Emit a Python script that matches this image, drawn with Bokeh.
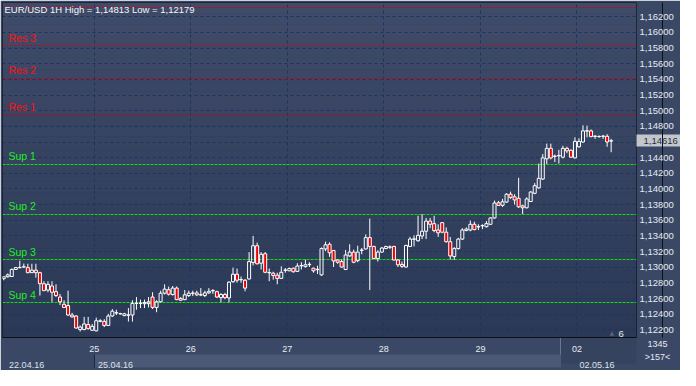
import numpy as np
from bokeh.plotting import figure
from bokeh.models import (ColumnDataSource, Range1d, FixedTicker, Label, LinearAxis,
                          BoxAnnotation, CustomJSTickFormatter)
from bokeh.embed import file_html
from bokeh.resources import INLINE

# ---------------- data ----------------
title_text = "EUR/USD 1H High = 1,14813 Low = 1,12179"

opens = [1.12855, 1.12879, 1.12882, 1.12972, 1.12994, 1.13003, 1.12996, 1.12931, 1.12963, 1.12931,
         1.12790, 1.12709, 1.12761, 1.12688, 1.12620, 1.12527, 1.12511, 1.12390, 1.12378, 1.12204,
         1.12204, 1.12269, 1.12196, 1.12188, 1.12309, 1.12309, 1.12257, 1.12378, 1.12416, 1.12408,
         1.12382, 1.12392, 1.12390, 1.12539, 1.12541, 1.12535, 1.12535, 1.12620, 1.12487, 1.12559,
         1.12669, 1.12713, 1.12652, 1.12734, 1.12600, 1.12587, 1.12639, 1.12668, 1.12673, 1.12650,
         1.12639, 1.12673, 1.12699, 1.12688, 1.12612, 1.12652, 1.12608, 1.12815, 1.12911, 1.12840,
         1.12834, 1.12851, 1.13061, 1.13275, 1.13052, 1.13173, 1.12933, 1.12924, 1.12899, 1.12858,
         1.12961, 1.12955, 1.12988, 1.12948, 1.13019, 1.13008, 1.13034, 1.12988, 1.12970, 1.12903,
         1.13234, 1.13294, 1.13214, 1.13093, 1.13073, 1.12972, 1.13145, 1.13194, 1.13085, 1.13216,
         1.13234, 1.13379, 1.13266, 1.13112, 1.13194, 1.13239, 1.13256, 1.13266, 1.13093, 1.13036,
         1.13003, 1.13266, 1.13358, 1.13339, 1.13400, 1.13460, 1.13590, 1.13557, 1.13476, 1.13570,
         1.13448, 1.13327, 1.13137, 1.13239, 1.13360, 1.13469, 1.13476, 1.13549, 1.13516, 1.13530,
         1.13518, 1.13549, 1.13630, 1.13824, 1.13791, 1.13833, 1.13933, 1.13900, 1.13881, 1.13784,
         1.13760, 1.13840, 1.13945, 1.14014, 1.14127, 1.14385, 1.14519, 1.14416, 1.14424, 1.14406,
         1.14519, 1.14494, 1.14397, 1.14539, 1.14600, 1.14740, 1.14742, 1.14672, 1.14669, 1.14673,
         1.14673, 1.14612]
highs = [1.12882, 1.12921, 1.12984, 1.13003, 1.13084, 1.13048, 1.13045, 1.13045, 1.13045, 1.12943,
         1.12822, 1.12822, 1.12822, 1.12782, 1.12660, 1.12579, 1.12701, 1.12418, 1.12390, 1.12257,
         1.12366, 1.12366, 1.12276, 1.12357, 1.12337, 1.12337, 1.12406, 1.12467, 1.12458, 1.12418,
         1.12418, 1.12479, 1.12579, 1.12620, 1.12587, 1.12587, 1.12620, 1.12681, 1.12579, 1.12701,
         1.12782, 1.12754, 1.12761, 1.12754, 1.12620, 1.12709, 1.12701, 1.12701, 1.12701, 1.12734,
         1.12701, 1.12734, 1.12721, 1.12701, 1.12669, 1.12673, 1.12822, 1.12996, 1.12984, 1.12882,
         1.12851, 1.13194, 1.13400, 1.13315, 1.13194, 1.13194, 1.12984, 1.12943, 1.12931, 1.13012,
         1.12991, 1.12996, 1.12996, 1.13052, 1.13064, 1.13097, 1.13064, 1.12996, 1.13020, 1.13254,
         1.13327, 1.13319, 1.13222, 1.13101, 1.13101, 1.13222, 1.13294, 1.13226, 1.13275, 1.13246,
         1.13420, 1.13622, 1.13275, 1.13218, 1.13258, 1.13275, 1.13279, 1.13275, 1.13105, 1.13073,
         1.13287, 1.13388, 1.13408, 1.13658, 1.13679, 1.13630, 1.13630, 1.13658, 1.13549, 1.13578,
         1.13509, 1.13388, 1.13258, 1.13376, 1.13500, 1.13509, 1.13597, 1.13582, 1.13549, 1.13549,
         1.13590, 1.13638, 1.13852, 1.13848, 1.13873, 1.13945, 1.13966, 1.13933, 1.14143, 1.13800,
         1.13893, 1.13973, 1.14075, 1.14325, 1.14446, 1.14579, 1.14579, 1.14439, 1.14500, 1.14551,
         1.14539, 1.14506, 1.14660, 1.14648, 1.14813, 1.14810, 1.14761, 1.14688, 1.14685, 1.14688,
         1.14700, 1.14640]
lows = [1.12834, 1.12867, 1.12879, 1.12968, 1.12988, 1.12994, 1.12924, 1.12928, 1.12867, 1.12639,
        1.12697, 1.12681, 1.12559, 1.12620, 1.12518, 1.12479, 1.12378, 1.12357, 1.12216, 1.12179,
        1.12196, 1.12204, 1.12188, 1.12182, 1.12297, 1.12236, 1.12249, 1.12366, 1.12390, 1.12398,
        1.12378, 1.12306, 1.12306, 1.12458, 1.12479, 1.12479, 1.12487, 1.12467, 1.12426, 1.12551,
        1.12652, 1.12639, 1.12639, 1.12579, 1.12572, 1.12579, 1.12620, 1.12632, 1.12632, 1.12632,
        1.12620, 1.12660, 1.12660, 1.12608, 1.12551, 1.12591, 1.12551, 1.12802, 1.12802, 1.12802,
        1.12693, 1.12842, 1.13024, 1.13036, 1.12972, 1.12924, 1.12822, 1.12842, 1.12782, 1.12855,
        1.12931, 1.12951, 1.12931, 1.12940, 1.12972, 1.12996, 1.13003, 1.12931, 1.12915, 1.12891,
        1.13206, 1.13133, 1.13003, 1.13045, 1.12996, 1.12963, 1.13133, 1.13052, 1.13064, 1.13166,
        1.13226, 1.12709, 1.13105, 1.13073, 1.13185, 1.13234, 1.13234, 1.13085, 1.13003, 1.12991,
        1.12996, 1.13258, 1.13266, 1.13327, 1.13360, 1.13360, 1.13500, 1.13448, 1.13388, 1.13436,
        1.13315, 1.13097, 1.13093, 1.13226, 1.13348, 1.13460, 1.13460, 1.13473, 1.13476, 1.13488,
        1.13509, 1.13542, 1.13622, 1.13788, 1.13772, 1.13824, 1.13873, 1.13800, 1.13760, 1.13679,
        1.13751, 1.13833, 1.13933, 1.14002, 1.14115, 1.14317, 1.14378, 1.14345, 1.14325, 1.14390,
        1.14458, 1.14397, 1.14390, 1.14527, 1.14591, 1.14660, 1.14660, 1.14640, 1.14654, 1.14640,
        1.14539, 1.14470]
closes = [1.12879, 1.12903, 1.12972, 1.12996, 1.12998, 1.13006, 1.12931, 1.12963, 1.12931, 1.12790,
          1.12701, 1.12782, 1.12681, 1.12639, 1.12559, 1.12487, 1.12390, 1.12366, 1.12224, 1.12236,
          1.12276, 1.12216, 1.12245, 1.12317, 1.12317, 1.12257, 1.12378, 1.12439, 1.12420, 1.12404,
          1.12406, 1.12388, 1.12539, 1.12541, 1.12539, 1.12551, 1.12559, 1.12487, 1.12559, 1.12669,
          1.12721, 1.12656, 1.12734, 1.12587, 1.12579, 1.12648, 1.12669, 1.12670, 1.12648, 1.12646,
          1.12673, 1.12693, 1.12703, 1.12620, 1.12652, 1.12612, 1.12810, 1.12911, 1.12834, 1.12844,
          1.12734, 1.13073, 1.13275, 1.13045, 1.13166, 1.12936, 1.12929, 1.12895, 1.12858, 1.12936,
          1.12965, 1.12984, 1.12943, 1.13016, 1.13023, 1.13032, 1.13038, 1.12955, 1.12974, 1.13239,
          1.13287, 1.13185, 1.13081, 1.13064, 1.13003, 1.13157, 1.13194, 1.13064, 1.13194, 1.13220,
          1.13379, 1.13266, 1.13112, 1.13194, 1.13246, 1.13266, 1.13260, 1.13093, 1.13032, 1.13012,
          1.13279, 1.13360, 1.13362, 1.13408, 1.13460, 1.13590, 1.13549, 1.13469, 1.13440, 1.13448,
          1.13327, 1.13145, 1.13239, 1.13360, 1.13476, 1.13488, 1.13549, 1.13481, 1.13520, 1.13533,
          1.13557, 1.13630, 1.13821, 1.13791, 1.13836, 1.13933, 1.13893, 1.13860, 1.13772, 1.13760,
          1.13873, 1.13961, 1.14042, 1.14136, 1.14397, 1.14519, 1.14397, 1.14420, 1.14428, 1.14519,
          1.14487, 1.14406, 1.14608, 1.14608, 1.14742, 1.14744, 1.14669, 1.14674, 1.14671, 1.14675,
          1.14600, 1.14616]

res_names = ["Res 1", "Res 2", "Res 3", "Res 4"]
res_levels = [1.14943, 1.15412, 1.15828, 1.16321]
sup_names = ["Sup 1", "Sup 2", "Sup 3", "Sup 4"]
sup_levels = [1.14317, 1.13675, 1.13093, 1.12548]

price_ticks = [1.122, 1.124, 1.126, 1.128, 1.130, 1.132, 1.134, 1.136, 1.138, 1.140, 1.142,
               1.144, 1.146, 1.148, 1.150, 1.152, 1.154, 1.156, 1.158, 1.160, 1.162]
day_first_bar = [23, 47, 71, 95, 119, 143]
day_labels = ["25", "26", "27", "28", "29", "02"]
date_first_bar = [0, 23, 143]
date_labels = ["22.04.16", "25.04.16", "02.05.16"]
last_price = 1.14616
last_price_text = "1,14616"
corner_text = "1345\n>157<"
shift_text = "6"

# ---------------- figure ----------------
W, H = 680, 370
BL, BT, BR, BB = 2, 2, 40, 26
X0, X1 = -0.3, 157.3
Y0, Y1 = 1.12103, 1.16382
FONT = "Liberation Sans"
px_x = (X1 - X0) / (W - BL - 43)        # data units per pixel (horizontal)

p = figure(width=W, height=H, output_backend="svg", toolbar_location=None,
           x_range=Range1d(X0, X1), y_range=Range1d(Y0, Y1), y_axis_location="right",
           min_border_left=BL, min_border_top=BT, min_border_right=BR, min_border_bottom=BB)
p.background_fill_color = "#2d3b58"
p.border_fill_color = "#3b4865"
p.outline_line_color = "#151b28"

# vertical gradient of the plot background
top_rgb = np.array([64, 76, 105])
bot_rgb = np.array([43, 57, 87])
nb = 30
edges = np.linspace(Y0, Y1, nb + 1)
for k in range(nb):
    t = (k + 0.5) / nb
    rgb = (bot_rgb + (top_rgb - bot_rgb) * t).astype(int)
    col = "#%02x%02x%02x" % tuple(rgb)
    p.add_layout(BoxAnnotation(bottom=edges[k], top=edges[k + 1], fill_color=col, fill_alpha=1,
                               line_alpha=0, level="image"))

# ---------------- grid ----------------
day_bounds = [d - 0.5 for d in day_first_bar]
xt = FixedTicker(ticks=day_bounds)
yt = FixedTicker(ticks=price_ticks)
p.xgrid.ticker = xt
p.ygrid.ticker = yt
for g in (p.xgrid, p.ygrid):
    g.grid_line_color = "#1b3461"
    g.grid_line_dash = "3 3"
    g.grid_line_width = 1


def style(ax, color, size="9px", standoff=2):
    ax.major_tick_line_color = None
    ax.minor_tick_line_color = None
    ax.major_label_text_color = color
    ax.major_label_text_font = FONT
    ax.major_label_text_font_size = size
    ax.major_label_standoff = standoff
    return ax


def strip_axis(center, width_px, depth_px, color):
    """label-less axis: one thick minor tick paints a strip outside the frame"""
    return LinearAxis(ticker=FixedTicker(ticks=[], minor_ticks=[center]), axis_line_color=None,
                      major_tick_line_color=None, major_label_standoff=0,
                      minor_tick_out=0, minor_tick_in=-depth_px,
                      minor_tick_line_width=width_px, minor_tick_line_color=color,
                      minor_tick_line_cap="butt")


# ---------------- bottom: day row + date row ----------------
section_split = 138.4
shade_c = strip_axis((section_split + X1) / 2, (X1 - section_split) / px_x, 26, "#36435e")
sep_c = strip_axis(section_split, 1, 26, "#6b7790")
shade_b = strip_axis((day_bounds[0] + section_split) / 2, (section_split - day_bounds[0]) / px_x,
                     13, "#4b5977")
sep_b = strip_axis(day_bounds[0], 1, 13, "#1f283a")

xa = p.xaxis[0]
xa.ticker = FixedTicker(ticks=day_bounds)
xa.major_label_overrides = {b: lab for b, lab in zip(day_bounds, day_labels)}
xa.axis_line_color = "#0b0f18"
style(xa, "#e6ecf6")

date_pos = [max(d - 0.5, X0) + off for d, off in zip(date_first_bar, [6.0, 5.3, 5.0])]
xd = LinearAxis(ticker=FixedTicker(ticks=date_pos),
                major_label_overrides={d: lab for d, lab in zip(date_pos, date_labels)},
                axis_line_color=None)
style(xd, "#dde3ec", standoff=1)

p.below = [shade_c, sep_c, xa, shade_b, sep_b, xd]

# ---------------- right: price tag box, corner texts, price axis, tag text ----------------
tag_box = strip_axis(last_price, 12, 44, "#c3c6cc")
corner = Label(x=X1, y=Y0, text=corner_text, x_offset=21, y_offset=-13, text_align="center",
               text_baseline="middle", text_font=FONT, text_font_size="9px",
               text_line_height=1.35, text_color="#e4eaf4")

ya = p.yaxis[0]
ya.ticker = FixedTicker(ticks=[t for t in price_ticks if abs(t - last_price) > 0.0005])
ya.formatter = CustomJSTickFormatter(code="return tick.toFixed(5).replace('.', ',');")
ya.axis_line_color = "#0b0f18"
style(ya, "#e4eaf4", "9.5px", 4 - 33)

tag_text = LinearAxis(ticker=FixedTicker(ticks=[last_price]), axis_line_color=None,
                      major_label_overrides={last_price: last_price_text})
style(tag_text, "#2c3036", "9.5px", 4 - 43)

p.right = [tag_box, corner, ya, tag_text]

# ---------------- support / resistance ----------------
p.hspan(y=res_levels, line_color="#d40000", line_width=1, line_dash="2 2")
p.hspan(y=sup_levels, line_color="#10dd10", line_width=1, line_dash="3 1")
for name, lvl in zip(res_names[:3], res_levels[:3]):
    p.add_layout(Label(x=6, x_units="screen", y=lvl, text=name, y_offset=8,
                       text_baseline="alphabetic", text_font=FONT, text_font_size="10.5px",
                       text_color="#ff1010"))
for name, lvl in zip(sup_names, sup_levels):
    p.add_layout(Label(x=6, x_units="screen", y=lvl, text=name, y_offset=8,
                       text_baseline="alphabetic", text_font=FONT, text_font_size="10.5px",
                       text_color="#22ee22"))

# ---------------- candles ----------------
o = np.array(opens); c = np.array(closes); h = np.array(highs); l = np.array(lows)
idx = np.arange(len(o))
bear = c < o
src = ColumnDataSource(dict(x=idx, top=np.maximum(o, c), bottom=np.minimum(o, c), high=h, low=l,
                            fill=np.where(bear, "#ee0000", "#ffffff"),
                            alpha=np.where(bear, 1.0, 0.0)))
p.segment(x0="x", y0="high", x1="x", y1="top", source=src, line_color="white", line_width=1)
p.segment(x0="x", y0="bottom", x1="x", y1="low", source=src, line_color="white", line_width=1)
p.vbar(x="x", width=0.75, top="top", bottom="bottom", source=src, fill_color="fill",
       fill_alpha="alpha", line_color="white", line_width=1)

# ---------------- texts inside the frame ----------------
p.add_layout(Label(x=2, x_units="screen", y=Y1, text=title_text, y_offset=-1,
                   text_baseline="top", text_font=FONT, text_font_size="9.5px",
                   text_color="#f4f6fa"))
p.add_layout(Label(x=X1, y=Y0, text="\u25B2", x_offset=-27, y_offset=2, text_baseline="bottom",
                   text_font="DejaVu Sans", text_font_size="6px", text_color="#596379"))
p.add_layout(Label(x=X1, y=Y0, text=shift_text, x_offset=-18, y_offset=1, text_baseline="bottom",
                   text_font=FONT, text_font_size="9.5px", text_color="#e4eaf4"))

open("out.html", "w").write(file_html(p, INLINE))
